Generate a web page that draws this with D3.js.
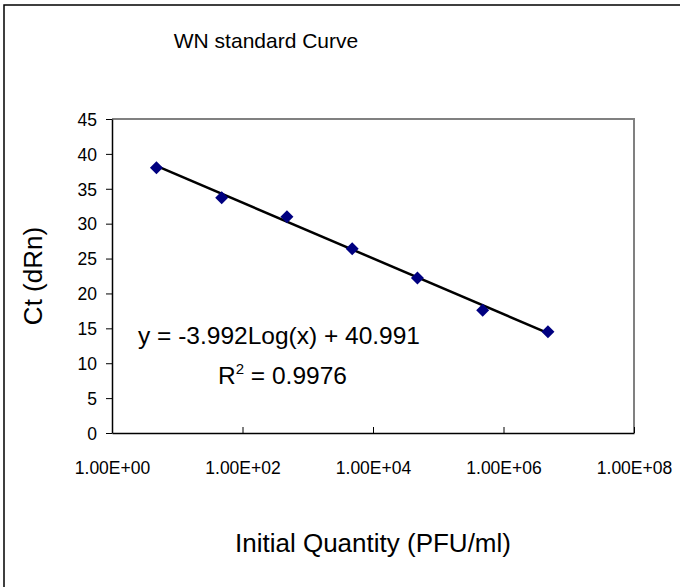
<!DOCTYPE html>
<html>
<head>
<meta charset="utf-8">
<script src="https://cdn.jsdelivr.net/npm/d3@7"></script>
<style>
  body { margin: 0; background: #fff; }
  svg text { font-family: "Liberation Sans", Arial, sans-serif; fill: #000; }
</style>
</head>
<body>
<svg id="chart" width="680" height="587"></svg>
<script>
// WN standard curve - Ct vs initial quantity
var quantity = [4.8, 48, 480, 4800, 48000, 480000, 4800000]
var ct = [38.0, 33.7, 31.0, 26.4, 22.2, 17.6, 14.5]
var xTicks = [1, 1e2, 1e4, 1e6, 1e8]
var yTicks = [0, 5, 10, 15, 20, 25, 30, 35, 40, 45]
var fitSlope = -3.992
var fitIntercept = 40.991

var svg = d3.select("#chart")

// chart area border
svg.append("rect")
    .attr("x", 4).attr("y", 5)
    .attr("width", 700).attr("height", 600)
    .attr("fill", "#fff")
    .attr("stroke", "#000").attr("stroke-width", 1.5)

var x = d3.scaleLog().domain([1, 1e8]).range([112, 634])
var y = d3.scaleLinear().domain([0, 45]).range([433, 119])

// plot area border (top / right in gray)
svg.append("path")
    .attr("d", "M" + x(1) + "," + y(45) + "H" + x(1e8) + "V" + y(0))
    .attr("fill", "none")
    .attr("stroke", "#808080").attr("stroke-width", 2)

var yAxis = svg.append("g")
    .attr("transform", "translate(" + x(1) + ",0)")
    .call(d3.axisLeft(y).tickValues(yTicks).tickSize(6).tickSizeOuter(0).tickPadding(9))
yAxis.select(".domain").attr("stroke", "#000").attr("stroke-width", 1.5)
yAxis.selectAll(".tick line").attr("stroke", "#000")
yAxis.selectAll("text").style("font-size", "17.5px").attr("dy", "0.36em")

var xAxis = svg.append("g")
    .attr("transform", "translate(0," + y(0) + ")")
    .call(d3.axisBottom(x).tickValues(xTicks).tickSize(-6).tickSizeOuter(0).tickPadding(41)
        .tickFormat(function(d) {
            var e = Math.round(Math.log10(d))
            return "1.00E+" + (e < 10 ? "0" : "") + e
        }))
xAxis.select(".domain").attr("stroke", "#000").attr("stroke-width", 1.5)
xAxis.selectAll(".tick line").attr("stroke", "#000")
xAxis.selectAll("text")
    .style("font-size", "17.5px")
    .attr("dy", "0")

// logarithmic trendline
var trend = d3.line()
    .x(function(d) { return x(d) })
    .y(function(d) { return y(fitSlope * Math.log10(d) + fitIntercept) })

svg.append("path")
    .datum([quantity[0], quantity[quantity.length - 1]])
    .attr("d", trend)
    .attr("fill", "none")
    .attr("stroke", "#000")
    .attr("stroke-width", 2.5)

// data points
var pts = quantity.map(function(q, i) { return { q: q, ct: ct[i] } })
svg.selectAll(".pt")
    .data(pts)
    .enter()
    .append("path")
    .attr("class", "pt")
    .attr("d", "M0,-6.5L6.5,0L0,6.5L-6.5,0Z")
    .attr("transform", function(d) { return "translate(" + x(d.q) + "," + y(d.ct) + ")" })
    .attr("fill", "#000080")

// titles
svg.append("text")
    .attr("x", 266).attr("y", 48)
    .attr("text-anchor", "middle")
    .style("font-size", "21px")
    .text("WN standard Curve")

svg.append("text")
    .attr("transform", "translate(42,276) rotate(-90)")
    .attr("text-anchor", "middle")
    .style("font-size", "26px")
    .text("Ct (dRn)")

svg.append("text")
    .attr("x", (x.range()[0] + x.range()[1]) / 2).attr("y", 552)
    .attr("text-anchor", "middle")
    .style("font-size", "26px")
    .text("Initial Quantity (PFU/ml)")

// trendline label
svg.append("text")
    .attr("x", 138).attr("y", 344)
    .style("font-size", "24.5px")
    .text("y = " + fitSlope + "Log(x) + " + fitIntercept)

var r2 = svg.append("text")
    .attr("x", 218).attr("y", 384)
    .style("font-size", "24.5px")
r2.append("tspan").text("R")
r2.append("tspan").attr("dy", -10).style("font-size", "15px").text("2")
r2.append("tspan").attr("dy", 10).text(" = 0.9976")
</script>
</body>
</html>
